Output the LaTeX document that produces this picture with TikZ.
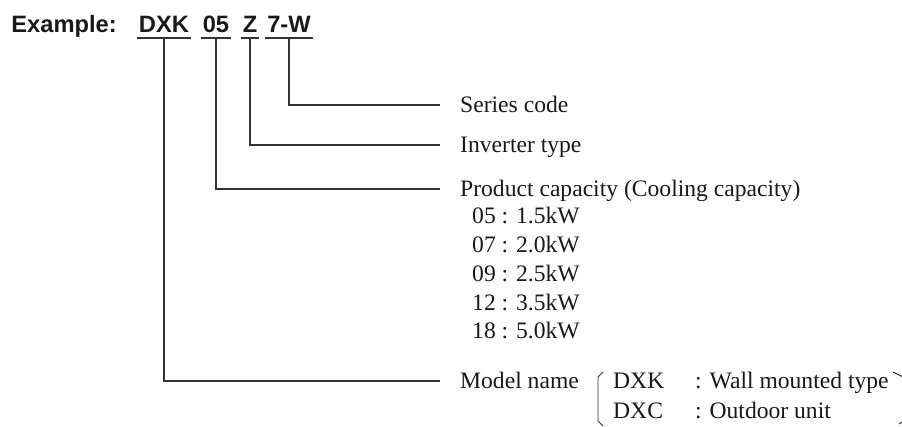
\documentclass[tikz,border=0pt]{standalone}
\usepackage{fontspec}
\setmainfont{Liberation Serif}
\setsansfont{Liberation Sans}
\usetikzlibrary{positioning}

\begin{document}
\begin{tikzpicture}[x=1pt, y=-1pt, font=\fontsize{23.6}{28}\selectfont, text=black!90,
  code node/.style={font=\fontsize{23.7}{28}\selectfont\sffamily\bfseries, anchor=base, inner xsep=2pt, inner ysep=6pt, text height=17pt, text depth=0pt},
  label node/.style={anchor=west, inner xsep=20pt, inner ysep=0pt, text height=15.6pt, text depth=0pt},
  item node/.style={anchor=west, inner sep=0pt, text height=15.6pt, text depth=0pt},
  conn/.style={draw=black!80, line width=1.5pt},
  bracket/.style={draw=black!80, line width=0.9pt}]
\useasboundingbox (0,0) rectangle (902,426);
% code
\node[code node, anchor=base east, inner xsep=0pt] (ex) at (117,32) {Example:};
\node[code node] (dxk) at (164,32) {DXK};
\node[code node] (cap) at (216,32) {05};
\node[code node] (inv) at (250,32) {Z};
\node[code node] (ser) at (289,32) {7-W};
% labels
\node[label node] (series) at (440,105) {Series code};
\node[label node] (invtype) at (440,145) {Inverter type};
\node[label node] (capacity) at (440,189) {Product capacity (Cooling capacity)};
\node[item node] (c05) at (472,216) {05 : 1.5kW};
\node[item node] (c07) at (472,244.75) {07 : 2.0kW};
\node[item node] (c09) at (472,273.5) {09 : 2.5kW};
\node[item node] (c12) at (472,302.25) {12 : 3.5kW};
\node[item node] (c18) at (472,331) {18 : 5.0kW};
\node[label node] (model) at (440,381) {Model name};
\node[item node] (wall) at (613,381) {DXK};
\node[item node] (walltxt) at (695,381) {: Wall mounted type};
\node[item node] (out) at (613,411) {DXC};
\node[item node] (outtxt) at (695,411) {: Outdoor unit};
% underlines
\foreach \n in {dxk,cap,inv,ser}
  \draw[conn] (\n.south west) -- (\n.south east);
% connectors
\draw[conn] (ser.south) |- (series.west);
\draw[conn] (inv.south) |- (invtype.west);
\draw[conn] (cap.south) |- (capacity.west);
\draw[conn] (dxk.south) |- (model.west);
% brackets
\draw[bracket] (603,372) -- (598,377) -- (598,421) -- (603,426);
\draw[bracket] (893,372) -- (905,378) -- (905,420) -- (899,424);
\end{tikzpicture}
\end{document}
